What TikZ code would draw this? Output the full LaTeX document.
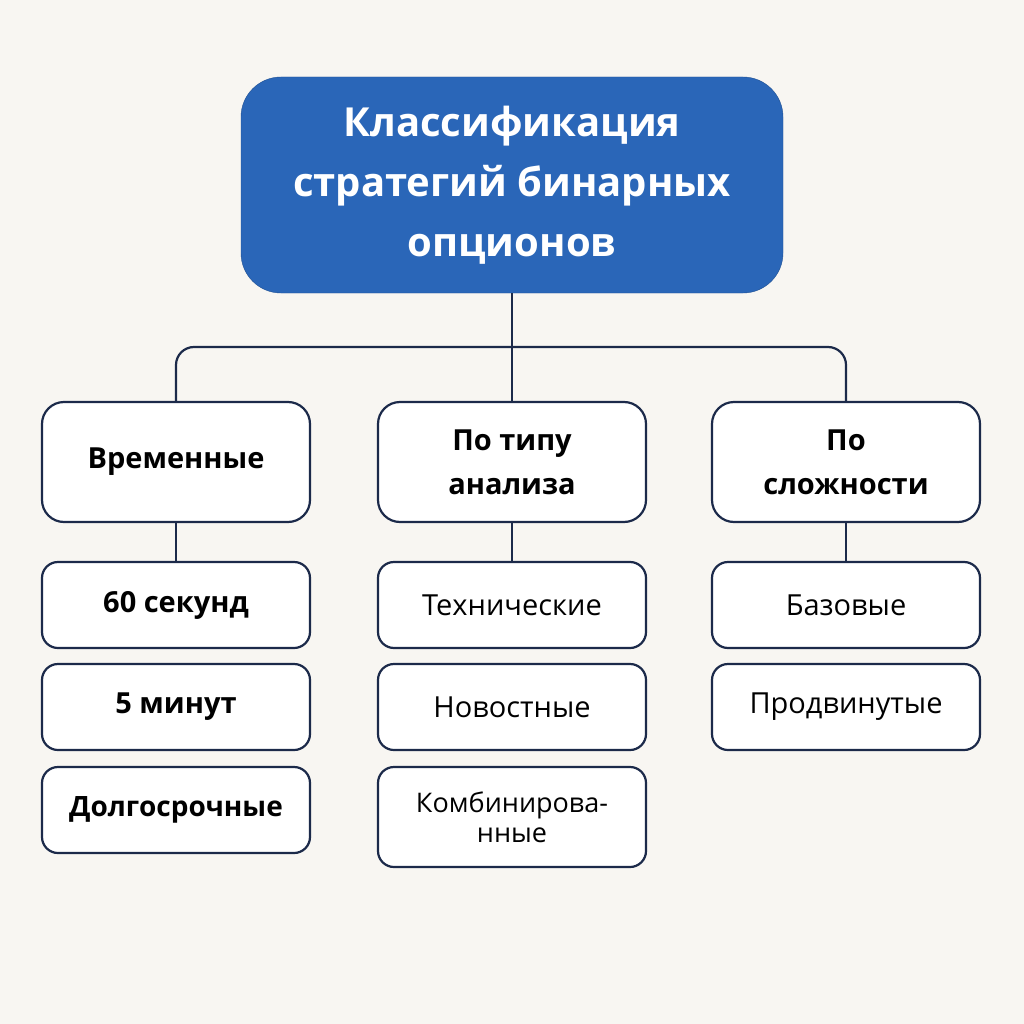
\documentclass[tikz,border=0pt]{standalone}
\usepackage{fontspec}
\setmainfont{Open Sans}[BoldFont={Open Sans Bold}]
\definecolor{bgcol}{HTML}{F8F6F2}
\definecolor{titlecol}{HTML}{2A66B8}
\definecolor{linecol}{HTML}{1C2A4A}
\tikzset{
  catbox/.style={draw=linecol, line width=2.2pt, rounded corners=22pt, fill=white,
    minimum width=268pt, minimum height=120pt, align=center, font=\fontsize{29}{44}\selectfont\bfseries},
  itembox/.style={draw=linecol, line width=2.2pt, rounded corners=16pt, fill=white,
    minimum width=268pt, minimum height=86pt, align=center, font=\fontsize{29}{29}\selectfont},
  link/.style={draw=linecol, line width=2.2pt}
}
\begin{document}
\begin{tikzpicture}[x=1pt,y=-1pt]

  %% Background
  \fill[bgcol] (0,0) rectangle (1024,1024);
  \useasboundingbox (0,0) rectangle (1024,1024);

  %% Title
  \node[fill=titlecol, draw=titlecol!80!black, rounded corners=40pt, minimum width=542pt,
    minimum height=216pt, align=center, text=white,
    font=\fontsize{40}{60}\selectfont\bfseries] (title) at (512,185)
    {Классификация\\стратегий бинарных\\опционов};

  %% Categories
  \node[catbox] (time) at (176,462) {Временные};
  \node[catbox] (anal) at (512,462) {По типу\\анализа};
  \node[catbox] (cplx) at (846,462) {По\\сложности};

  %% Items
  \node[itembox, font=\fontsize{29}{29}\selectfont\bfseries] (t1) at (176,605) {60 секунд};
  \node[itembox, font=\fontsize{29}{29}\selectfont\bfseries] (t2) at (176,707) {5 минут};
  \node[itembox, font=\fontsize{28}{28}\selectfont\bfseries] (t3) at (176,810) {Долгосрочные};
  \node[itembox] (a1) at (512,605) {Технические};
  \node[itembox] (a2) at (512,707) {Новостные};
  \node[itembox, minimum height=100pt, font=\fontsize{27}{30}\selectfont] (a3) at (512,817) {Комбинирова-\\нные};
  \node[itembox] (c1) at (846,605) {Базовые};
  \node[itembox] (c2) at (846,707) {Продвинутые};

  %% Connectors
  \coordinate (bus) at (512,347);
  \draw[link] (title.south) -- (anal.north);
  \draw[link, rounded corners=18pt] (time.north) |- (bus) -| (cplx.north);
  \draw[link] (time.south) -- (t1.north);
  \draw[link] (anal.south) -- (a1.north);
  \draw[link] (cplx.south) -- (c1.north);

\end{tikzpicture}
\end{document}
